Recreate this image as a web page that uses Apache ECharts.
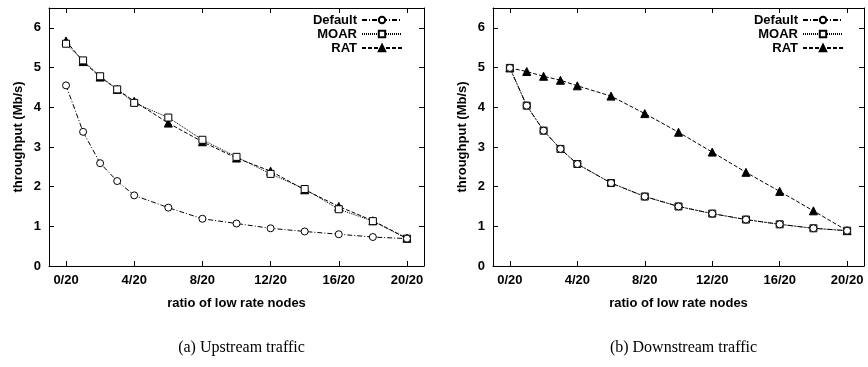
<!DOCTYPE html>
<html><head><meta charset="utf-8">
<script src="https://cdn.jsdelivr.net/npm/echarts@6/dist/echarts.min.js"></script>
<style>html,body{margin:0;padding:0;background:#fff}#c{width:868px;height:367px}</style>
</head><body><div id="c"></div>
<script>
const xs = [0,1,2,3,4,6,8,10,12,14,16,18,20];
const xTickValues = [0,4,8,12,16,20];
const xTickLabels = ['0/20','4/20','8/20','12/20','16/20','20/20'];
const yTickValues = [0,1,2,3,4,5,6];
const seriesNames = ['Default','MOAR','RAT'];
// (a) Upstream
const upDefault = [4.55,3.38,2.59,2.14,1.78,1.47,1.19,1.07,0.95,0.87,0.80,0.73,0.69];
const upMOAR    = [5.60,5.18,4.78,4.45,4.11,3.74,3.18,2.75,2.32,1.94,1.43,1.13,0.69];
const upRAT     = [5.67,5.15,4.76,4.45,4.15,3.60,3.13,2.72,2.39,1.92,1.50,1.14,0.70];
// (b) Downstream
const downDefault = [4.99,4.04,3.41,2.95,2.57,2.09,1.75,1.50,1.32,1.17,1.05,0.95,0.89];
const downMOAR    = [4.99,4.04,3.41,2.95,2.57,2.09,1.75,1.50,1.32,1.17,1.05,0.95,0.89];
const downRAT     = [4.99,4.90,4.78,4.68,4.54,4.28,3.84,3.37,2.87,2.36,1.88,1.39,0.89];
const captions = ['(a) Upstream traffic','(b) Downstream traffic'];
const xName = 'ratio of low rate nodes';
const yName = 'throughput (Mb/s)';

const font = 'Liberation Sans, Arial, sans-serif';
const grids = [
  {left:49, top:8, width:375, height:258},
  {left:493, top:8, width:371, height:258}
];
const styles = [
  {symbol:'circle', dash:[5,2,1,2], fill:'#fff', size:7},
  {symbol:'rect', dash:[1,1], fill:'#fff', size:7},
  {symbol:'triangle', dash:[4,2], fill:'#000', size:8}
];
const xAxes = [], yAxes = [], series = [], legends = [], titles = [];
const dataSets = [[upDefault,upMOAR,upRAT],[downDefault,downMOAR,downRAT]];
const legendRight = [465, 24];
const txt = {fontFamily:font, fontWeight:'bold', fontSize:13, color:'#000'};
grids.forEach((g, gi) => {
  const base = {gridIndex: gi, type:'value', min:-1, max:21,
    axisLine:{show:true, onZero:false, lineStyle:{color:'#000', width:1}},
    splitLine:{show:false}};
  xAxes.push(Object.assign({}, base, {position:'bottom',
    name: xName, nameLocation:'middle', nameGap:31,
    nameTextStyle: txt,
    axisTick:{show:true, inside:true, length:5, customValues:xTickValues, lineStyle:{color:'#000'}},
    axisLabel:Object.assign({customValues:xTickValues, formatter:v => xTickLabels[xTickValues.indexOf(v)], margin:8}, txt)}));
  xAxes.push(Object.assign({}, base, {position:'top',
    axisTick:{show:true, inside:true, length:5, customValues:xTickValues, lineStyle:{color:'#000'}},
    axisLabel:{show:false}}));
  const ybase = {gridIndex: gi, type:'value', min:0, max:6.5,
    axisLine:{show:true, onZero:false, lineStyle:{color:'#000', width:1}},
    splitLine:{show:false}};
  yAxes.push(Object.assign({}, ybase, {position:'left',
    name: yName, nameLocation:'middle', nameGap:24,
    nameTextStyle: txt,
    axisTick:{show:true, inside:true, length:5, customValues:yTickValues, lineStyle:{color:'#000'}},
    axisLabel:Object.assign({customValues:yTickValues, margin:8}, txt)}));
  yAxes.push(Object.assign({}, ybase, {position:'right',
    axisTick:{show:true, inside:true, length:5, customValues:yTickValues, lineStyle:{color:'#000'}},
    axisLabel:{show:false}}));
  dataSets[gi].forEach((vals, si) => {
    series.push({
      name: seriesNames[si], type:'line', xAxisIndex: gi*2, yAxisIndex: gi*2,
      data: xs.map((x,i)=>[x, vals[i]]),
      symbol: styles[si].symbol, symbolSize: styles[si].size,
      showSymbol: true,
      lineStyle:{color:'#000', width:1, type: styles[si].dash},
      itemStyle:{color: styles[si].fill, borderColor:'#000', borderWidth:1},
      z: 3 - si
    });
  });
  titles.push({text: captions[gi], left: g.left + g.width/2, top: 335, textAlign:'center',
    textStyle:{fontFamily:'Liberation Serif, Times New Roman, serif', fontWeight:'normal', fontSize:16, color:'#000'}});
  legends.push({right: legendRight[gi], top: 13, padding:0, orient:'vertical', align:'right',
    itemWidth:40, itemHeight:8, itemGap:0,
    data: seriesNames, textStyle:Object.assign({lineHeight:14, padding:[0,0,0,0]}, txt), selectedMode:false});
});

const chart = echarts.init(document.getElementById('c'), null, {renderer:'canvas'});
chart.setOption({
  animation:false, backgroundColor:'#fff',
  title: titles, grid: grids, xAxis: xAxes, yAxis: yAxes, series: series, legend: legends
});
</script></body></html>
